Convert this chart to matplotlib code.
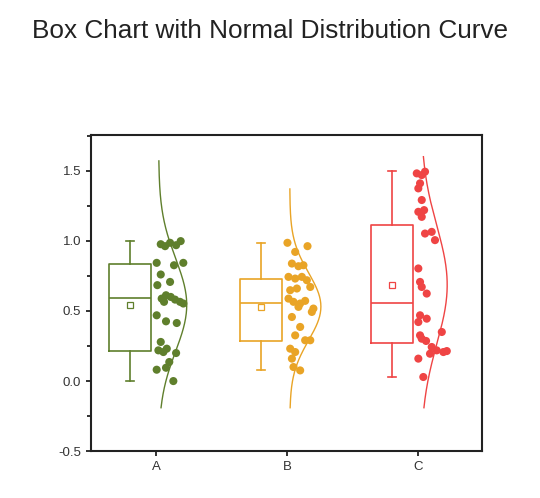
import numpy as np
import matplotlib

matplotlib.use("Agg")
import matplotlib.pyplot as plt
from matplotlib.ticker import MultipleLocator, FormatStrFormatter


groups = ["A", "B", "C"]
colors = ["#5f7f2c", "#e9a426", "#ef4444"]

# box statistics
whis_lo = [0.0, 0.08, 0.03]
q1 = [0.217, 0.286, 0.274]
medians = [0.595, 0.555, 0.555]
q3 = [0.833, 0.729, 1.114]
whis_hi = [1.0, 0.983, 1.5]
means = [0.543, 0.531, 0.686]

# normal curve parameters (sigma and plotted range)
sigmas = [0.33, 0.24, 0.42]
curve_lo = [-0.19, -0.19, -0.19]
curve_hi = [1.57, 1.37, 1.60]

# data points: values and horizontal jitter (axis units)
a_vals = [0.976, 0.962, 0.986, 0.969, 0.998, 0.843, 0.826, 0.843, 0.760, 0.707,
          0.684, 0.588, 0.612, 0.600, 0.581, 0.565, 0.553, 0.565, 0.469, 0.426,
          0.414, 0.279, 0.231, 0.219, 0.207, 0.200, 0.136, 0.095, 0.081, 0.0]
a_jit = [0.036, 0.069, 0.107, 0.153, 0.188, 0.005, 0.137, 0.208, 0.036, 0.107,
         0.010, 0.043, 0.076, 0.112, 0.145, 0.183, 0.208, 0.061, 0.005, 0.076,
         0.158, 0.036, 0.082, 0.018, 0.056, 0.153, 0.101, 0.076, 0.005, 0.132]

b_vals = [0.986, 0.962, 0.921, 0.838, 0.819, 0.826, 0.743, 0.731, 0.743, 0.719,
          0.671, 0.648, 0.660, 0.588, 0.565, 0.553, 0.572, 0.517, 0.529, 0.457,
          0.493, 0.386, 0.326, 0.291, 0.291, 0.231, 0.207, 0.160, 0.100, 0.076]
b_jit = [0.002, 0.155, 0.061, 0.036, 0.086, 0.124, 0.010, 0.061, 0.112, 0.150,
         0.176, 0.023, 0.074, 0.010, 0.048, 0.099, 0.137, 0.200, 0.086, 0.036,
         0.188, 0.099, 0.061, 0.137, 0.176, 0.023, 0.061, 0.036, 0.048, 0.099]

c_vals = [1.481, 1.493, 1.469, 1.410, 1.374, 1.291, 1.207, 1.219, 1.171, 1.052,
          1.064, 1.005, 0.803, 0.707, 0.671, 0.624, 0.469, 0.445, 0.421, 0.350,
          0.326, 0.302, 0.286, 0.243, 0.219, 0.207, 0.214, 0.195, 0.160, 0.029]
c_jit = [-0.012, 0.051, 0.026, 0.013, 0.0, 0.026, 0.0, 0.044, 0.026, 0.051,
         0.102, 0.127, 0.0, 0.013, 0.026, 0.064, 0.013, 0.064, 0.0, 0.179,
         0.013, 0.026, 0.059, 0.102, 0.140, 0.191, 0.217, 0.089, 0.0, 0.038]

values = [a_vals, b_vals, c_vals]
jitters = [a_jit, b_jit, c_jit]

# curve peak widths (axis units)
peak_widths = [0.214, 0.237, 0.200]


def main():
    plt.rcParams["font.family"] = ["Liberation Sans", "DejaVu Sans"]

    fig = plt.figure(figsize=(5.4, 4.98), dpi=100)
    ax = fig.add_axes([0.168, 0.094, 0.724, 0.635])

    positions = np.arange(1, len(groups) + 1)
    box_offset = -0.198
    curve_offset = 0.02

    for i, pos in enumerate(positions):
        col = colors[i]
        stats = [{
            "whislo": whis_lo[i], "q1": q1[i], "med": medians[i],
            "q3": q3[i], "whishi": whis_hi[i], "mean": means[i],
        }]
        ax.bxp(
            stats,
            positions=[pos + box_offset],
            widths=0.32,
            showmeans=True,
            showfliers=False,
            capwidths=0.06,
            boxprops=dict(color=col, linewidth=1.2),
            whiskerprops=dict(color=col, linewidth=1.2),
            capprops=dict(color=col, linewidth=1.2),
            medianprops=dict(color=col, linewidth=1.2),
            meanprops=dict(marker="s", markersize=3.8, markerfacecolor="none",
                           markeredgecolor=col, markeredgewidth=0.9),
        )

        ax.scatter(
            pos + np.array(jitters[i]),
            values[i],
            s=34,
            color=col,
            marker="o",
            edgecolors="none",
            zorder=3,
        )

        y = np.linspace(curve_lo[i], curve_hi[i], 200)
        pdf = np.exp(-0.5 * ((y - means[i]) / sigmas[i]) ** 2)
        ax.plot(pos + curve_offset + pdf * peak_widths[i], y,
                color=col, linewidth=1.0, zorder=2)

    ax.set_xlim(0.502, 3.483)
    ax.set_ylim(-0.5, 1.755)
    ax.set_xticks(positions)
    ax.set_xticklabels(groups)
    ax.yaxis.set_major_locator(MultipleLocator(0.5))
    ax.yaxis.set_minor_locator(MultipleLocator(0.25))
    ax.yaxis.set_major_formatter(FormatStrFormatter("%.1f"))

    for side in ["left", "right", "top", "bottom"]:
        ax.spines[side].set_linewidth(1.5)
        ax.spines[side].set_color("#222222")

    ax.tick_params(axis="both", which="major", direction="out", length=3.8,
                   width=1.3, labelsize=9.5, labelcolor="#333333",
                   color="#222222", pad=3)
    ax.tick_params(axis="y", which="minor", direction="out", length=2.6,
                   width=1.3, color="#222222")

    fig.text(0.5, 1 - 38 / 498, "Box Chart with Normal Distribution Curve",
             ha="center", va="baseline", fontsize=18.8, color="#222222")

    fig.savefig("out.png", dpi=100)
    plt.close(fig)


if __name__ == "__main__":
    main()
